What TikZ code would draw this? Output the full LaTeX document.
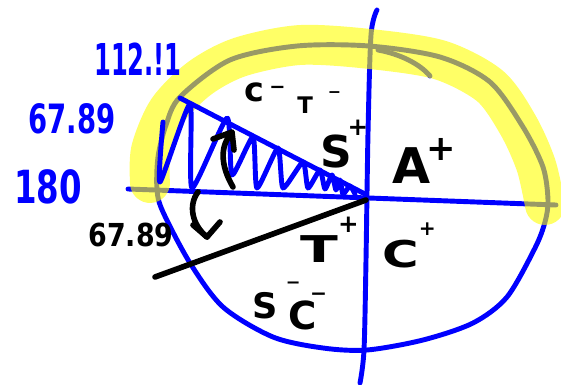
\documentclass[tikz,border=0pt]{standalone}
\usepackage{fontspec}
\setmainfont{DejaVu Sans}
\definecolor{pen}{RGB}{0,0,255}
\definecolor{hl}{RGB}{255,255,0}
\newcommand\fs[1]{\fontsize{#1}{#1}\selectfont\bfseries}
\newcommand\hsup[3]{\raisebox{#2}{\fontsize{#1}{#1}\selectfont\bfseries #3}}
\begin{document}
\begin{tikzpicture}[x=0.02cm,y=-0.02cm, line cap=round, line join=round,
  bluepen/.style={draw=pen, line width=2.8pt},
  blackpen/.style={draw=black, line width=3.2pt},
  highlight/.style={draw=hl, draw opacity=0.6, line width=22.7pt},
  lbl/.style={inner sep=0pt, anchor=base west, text=black},
  num/.style={inner sep=0pt, text=pen}]
\useasboundingbox (0,0) rectangle (561,385);
% circle and axes (under the highlighter)
\draw[bluepen] plot[smooth cycle] coordinates {(157,190) (158,157) (166,125) (180,97) (230,60) (297,46) (369,46) (440,57) (490,82) (523,127) (543,167) (548,200) (545,222) (535,248) (507,297) (473,323) (423,340) (367,350) (323,348) (273,337) (223,307) (190,263) (163,212)};
\draw[bluepen] (128,189) -- (556,205);
\draw[bluepen] plot[smooth] coordinates {(377,10) (371,35) (368,133) (366,260) (364,350) (360,383)};
\draw[bluepen] (378,50) .. controls (400,54) and (420,64) .. (430,76);
% highlighter
\draw[highlight] plot[smooth] coordinates {(150,183) (151,150) (168,110) (200,78) (240,57) (300,45) (370,49) (440,60) (490,86) (518,125) (536,165) (545,205)};
% triangle with zigzag
\draw[bluepen] (180,98) -- (365,194);
\draw[bluepen] plot[smooth, tension=0.35] coordinates {(163,122) (160,182) (190,104) (192,188) (227,118) (232,175) (253,137) (257,188) (278,148) (283,188) (303,162) (308,188) (320,170) (325,189) (332,175) (336,190) (340,180) (343,194) (350,186) (355,194)};
% black line and arrows
\draw[blackpen] (155,277) -- (366,200);
\draw[blackpen] (233,187) .. controls (220,165) and (220,145) .. (232,133);
\draw[blackpen] (213,139) -- (232,132) -- (234,150);
\draw[blackpen] (198,192) .. controls (188,205) and (192,225) .. (207,237);
\draw[blackpen] (193,225) -- (207,237) -- (220,222);
% numbers
\node[num, font=\fs{25}] (n112) at (138,59) {\scalebox{0.55}[1]{112.!1}};
\node[num, font=\fs{23}] (n6789a) at (72,119) {\scalebox{0.68}[1]{67.89}};
\node[num, font=\fs{26}] (n180) at (48,187) {\scalebox{0.71}[1]{180}};
\node[num, text=black, font=\fs{18}] (n6789b) at (131,235) {\scalebox{0.85}[1]{67.89}};
% quadrant labels
\node[lbl, font=\fs{19}] (cminus) at (244,102) {c\kern3pt\hsup{11}{5pt}{−}};
\node[lbl, font=\fs{13}] (tminus) at (297,113) {T\kern8.5pt\hsup{9}{9pt}{−}};
\node[lbl, font=\fs{25}] (splus) at (320,167) {S\kern-2.5pt\hsup{14}{18pt}{+}};
\node[lbl, font=\fs{28}] (aplus) at (392,183) {A\kern-2pt\hsup{20}{13pt}{+}};
\node[lbl, font=\fs{21}] (tplus) at (300,262) {\scalebox{1.5}[1]{T}\hsup{14}{17pt}{+}};
\node[lbl, font=\fs{21}] (cplus) at (382,267) {\scalebox{1.35}[1]{C}\hsup{11.5}{18pt}{+}};
\node[lbl, font=\fs{20}] (scminus) at (252,318) {S\kern4.7pt\hsup{10}{17pt}{−}\kern-6.8pt\raisebox{-6.8pt}{\fontsize{22}{22}\selectfont\bfseries C}\kern-4pt\hsup{11.5}{10pt}{−}};
\end{tikzpicture}
\end{document}
